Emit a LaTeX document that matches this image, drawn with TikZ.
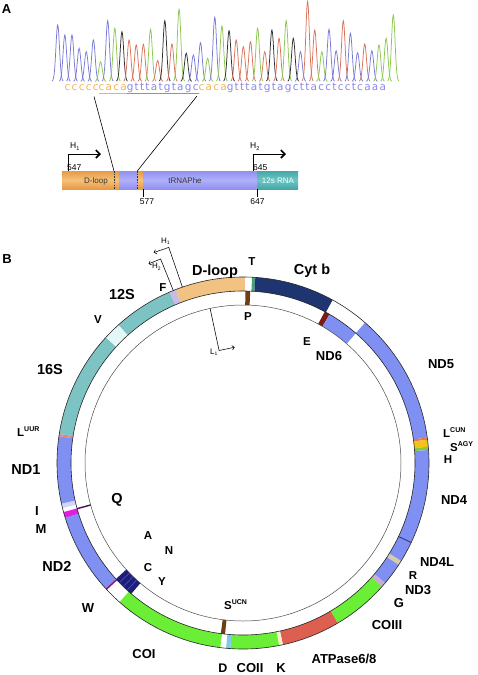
\documentclass[tikz,border=0pt]{standalone}
\usepackage{fontspec}
\setmainfont{Liberation Sans}
\newfontfamily\seqfont[LetterSpace=12]{DejaVu Sans}
\usetikzlibrary{arrows.meta}
% panel A colours
\definecolor{aor}{HTML}{E69A44}
\definecolor{aorl}{HTML}{F6C07A}
\definecolor{abl}{HTML}{9090F0}
\definecolor{abll}{HTML}{B0B0FA}
\definecolor{atl}{HTML}{46A6A6}
\definecolor{atll}{HTML}{6CC6C6}
\definecolor{seqor}{HTML}{F2B45A}
\definecolor{seqbl}{HTML}{8A8AE6}
\definecolor{cb}{HTML}{7A7AD6}
\definecolor{ca}{HTML}{8CC850}
\definecolor{cg}{HTML}{303030}
\definecolor{ct}{HTML}{D9735A}
% panel B colours
\definecolor{dloop}{HTML}{F2C283}
\definecolor{cytb}{HTML}{1F3572}
\definecolor{ndc}{HTML}{7F90F2}
\definecolor{cocol}{HTML}{6AEE36}
\definecolor{atp}{HTML}{DC5F50}
\definecolor{rteal}{HTML}{7DC3C3}
\definecolor{tcol}{HTML}{4E9E7E}
\definecolor{lcun}{HTML}{E87850}
\definecolor{sagy}{HTML}{F0C418}
\definecolor{hcol}{HTML}{8CC83C}
\definecolor{rcol}{HTML}{D6CCAA}
\definecolor{gcol}{HTML}{D0A8D8}
\definecolor{kcol}{HTML}{F4F2C8}
\definecolor{dcol}{HTML}{7CC8EE}
\definecolor{wcol}{HTML}{7A1E7A}
\definecolor{mcol}{HTML}{E01EE0}
\definecolor{icol}{HTML}{D4D4F6}
\definecolor{luur}{HTML}{E08888}
\definecolor{vcol}{HTML}{E4F6F6}
\definecolor{fcol}{HTML}{C8BCE6}
\definecolor{brn}{HTML}{6E3F12}
\definecolor{ecol}{HTML}{7A1C12}
\definecolor{clnavy}{HTML}{1C1E7A}
\definecolor{clstripe}{HTML}{5060C8}
\definecolor{qcol}{HTML}{4A0F55}
\newcommand\ulc[2]{\setbox0=\hbox{#2}\rlap{\color{#1}\rule[-2.8pt]{\wd0}{0.7pt}}\box0}
\newcommand\gseg[5]{\fill[#5] ({90-(#1)}:#3) arc[start angle={90-(#1)}, end angle={90-(#2)}, radius=#3] -- ({90-(#2)}:#4) arc[start angle={90-(#2)}, end angle={90-(#1)}, radius=#4] -- cycle;}
\newcommand\radl[4]{\draw[#4] ({90-(#1)}:#2) -- ({90-(#1)}:#3);}
\newcommand\sups[1]{\raisebox{5pt}{\fontsize{7}{7}\selectfont #1}}
\begin{document}
\begin{tikzpicture}[x=1pt,y=-1pt,
  lb/.style={font=\fontsize{14.5}{15}\selectfont\bfseries, inner sep=0pt, anchor=base},
  lm/.style={font=\fontsize{13}{14}\selectfont\bfseries, inner sep=0pt, anchor=base},
  ls/.style={font=\fontsize{11.5}{12}\selectfont\bfseries, inner sep=0pt, anchor=base},
  la/.style={font=\fontsize{8}{9}\selectfont, inner sep=0pt},
  lnum/.style={font=\fontsize{8.5}{9}\selectfont, inner sep=0pt},
  ringline/.style={draw=black!85, line width=0.6pt},
  inline/.style={draw=black!70, line width=0.5pt},
  conn/.style={draw=black, line width=0.6pt},
  arrA/.style={line width=0.6pt, -{Straight Barb[length=4pt,width=8pt,line width=1.6pt]}},
  arrB/.style={line width=0.55pt, -{Straight Barb[length=2.2pt,width=4.4pt,line width=0.55pt]}},
  dsh/.style={draw=black!80, line width=0.6pt, dash pattern=on 1.5pt off 1.2pt}]
\useasboundingbox (0,0) rectangle (477,675);
\fill[white] (0,0) rectangle (477,675);

% ---------------- Panel A ----------------
\node[font=\fontsize{13}{14}\selectfont\bfseries, inner sep=0pt, anchor=base] (labA) at (6.5,13) {A};

% chromatogram
\foreach \i/\t/\c in {1/25/cb,2/35/cb,3/35/cb,4/48.3/cb,5/51.7/cb,6/40/cb,7/61.7/ca,8/20.7/cb,
  9/28.3/ca,10/31.7/cg,11/40/ct,12/45/ct,13/44.3/ct,14/29.3/ca,15/60.7/ct,16/20.7/cg,
  17/44/ct,18/9.3/ca,19/53.3/cg,20/55/cb,21/42.7/cb,22/58.3/ca,23/17.3/cb,24/26/ca,
  25/30.7/cg,26/40/ct,27/46.7/ct,28/41.7/ct,29/28.3/ca,30/51.7/ct,31/30/cg,32/38.3/ct,
  33/20.7/ca,34/38.3/cg,35/51.7/cb,36/1.5/ct,37/30/ct,38/51.7/ca,39/29.3/cb,40/50.7/cb,
  41/20.7/ct,42/33.3/cb,43/52.7/cb,44/44/ct,45/50.7/cb,46/45/ca,47/38.3/ca,48/15/ca}{
  \pgfmathsetmacro\pk{57.7+7.14*(\i-1)}
  \pgfmathsetmacro\pa{\pk-5.5}
  \pgfmathsetmacro\pb{\pk+5.5}
  \pgfmathsetmacro\hh{81.5-\t}
  \draw[color=\c, line width=0.75pt] plot[smooth, samples=19, domain=\pa:\pb] (\x, {81.5-\hh*exp(-((\x-\pk)/2.5)^2)});
}

% sequence
\node[anchor=base west, inner sep=0pt] (seq) at (64.5,90.7) {\seqfont\fontsize{10.5}{12}\selectfont
  \color{seqor}ccccc\ulc{seqor}{caca}\color{seqbl}\ulc{seqbl}{gtttatgtagc}\color{seqor}caca\color{seqbl}gtttatgtagcttacctcctcaaa};

% gene bar
\fill[top color=aor, bottom color=aor, middle color=aorl] (62,171) rectangle (119,189);
\fill[top color=abl, bottom color=abl, middle color=abll] (119,171) rectangle (137.3,189);
\fill[top color=aor, bottom color=aor, middle color=aorl] (137.3,171) rectangle (143,189);
\fill[top color=abl, bottom color=abl, middle color=abll] (143,171) rectangle (257,189);
\fill[top color=atl, bottom color=atl, middle color=atll] (257,171) rectangle (298,189);
\coordinate (d1t) at (114,171); \coordinate (d1b) at (114,189);
\coordinate (d2t) at (137.3,171); \coordinate (d2b) at (137.3,189);
\draw[dsh] (d1t) -- (d1b);
\draw[dsh] (d2t) -- (d2b);
\node[la, text=black!80] (tdl) at (96,181) {D-loop};
\node[la, text=black!80] (tphe) at (185,181) {tRNAPhe};
\node[la, text=white] (t12) at (278,181) {12s RNA};

% connectors from sequence
\coordinate (s1) at (94,96.5);
\coordinate (s2) at (197,96);
\draw[conn] (s1) -- (d1t);
\draw[conn] (s2) -- (d2t);

% promoter arrows
\coordinate (h1b) at (68,171); \coordinate (h1c) at (68,154); \coordinate (h1e) at (101,154);
\coordinate (h2b) at (253,171); \coordinate (h2c) at (253,154); \coordinate (h2e) at (286,154);
\draw[arrA] (h1b) -- (h1c) -- (h1e);
\draw[arrA] (h2b) -- (h2c) -- (h2e);
\node[lnum, anchor=base west] (hA1) at (70,148.5) {H\raisebox{-1.5pt}{\fontsize{5.5}{6}\selectfont 1}};
\node[lnum, anchor=base west] (hA2) at (250,148.5) {H\raisebox{-1.5pt}{\fontsize{5.5}{6}\selectfont 2}};
\node[lnum, anchor=base west] (n547) at (67,170.5) {547};
\node[lnum, anchor=base west] (n645) at (253,170.5) {645};
\coordinate (k1t) at (143,189); \coordinate (k1b) at (143,196.5);
\coordinate (k2t) at (257,189); \coordinate (k2b) at (257,196.5);
\draw[conn] (k1t) -- (k1b);
\draw[conn] (k2t) -- (k2b);
\node[lnum, anchor=base] (n577) at (147,204) {577};
\node[lnum, anchor=base] (n647) at (257.5,204) {647};

% ---------------- Panel B ----------------
\node[font=\fontsize{13}{14}\selectfont\bfseries, inner sep=0pt, anchor=base] (labB) at (7,263) {B};

\begin{scope}[shift={(243,463)}, y=1pt]
  % outer track (H strand)
  \gseg{-21.3}{0.6}{172}{186}{dloop}
  \gseg{2.8}{3.8}{172}{186}{tcol}
  \gseg{3.8}{28.8}{172}{186}{cytb}
  \gseg{41}{82.1}{172}{186}{ndc}
  \gseg{82.1}{82.8}{172}{186}{lcun}
  \gseg{82.8}{85}{172}{186}{sagy}
  \gseg{85}{86}{172}{186}{hcol}
  \gseg{86}{115.3}{172}{186}{ndc}
  \gseg{115.3}{121.8}{172}{186}{ndc}
  \gseg{121.8}{123.2}{172}{186}{rcol}
  \gseg{123.2}{130.2}{172}{186}{ndc}
  \gseg{130.2}{131.6}{172}{186}{gcol}
  \gseg{131.6}{149.4}{172}{186}{cocol}
  \gseg{149.4}{167.6}{172}{186}{atp}
  \gseg{167.6}{168.8}{172}{186}{kcol}
  \gseg{168.8}{183.9}{172}{186}{cocol}
  \gseg{183.9}{185.2}{172}{186}{dcol}
  \gseg{187}{221.6}{172}{186}{cocol}
  \gseg{227.6}{252.9}{172}{186}{ndc}
  \gseg{252.9}{254.7}{172}{186}{mcol}
  \gseg{256}{257.4}{172}{186}{icol}
  \gseg{257.4}{278.3}{172}{186}{ndc}
  \gseg{278.3}{279}{172}{186}{luur}
  \gseg{279}{312.5}{172}{186}{rteal}
  \gseg{312.5}{318}{172}{186}{vcol}
  \gseg{318}{336.8}{172}{186}{rteal}
  \gseg{336.8}{338.7}{172}{186}{fcol}
  \radl{115.3}{172}{186}{draw=cytb, line width=0.8pt}
  \radl{227.3}{172}{186}{draw=wcol, line width=1.6pt}
  % inner track (L strand)
  \gseg{0.8}{2.4}{158}{172}{brn}
  \gseg{28.4}{30.2}{158}{172}{ecol}
  \gseg{30.2}{41}{158}{172}{ndc}
  \gseg{186}{187.4}{158}{172}{brn}
  \gseg{220.5}{227.6}{158}{172}{clnavy}
  \radl{222.3}{158}{172}{draw=clstripe, line width=0.5pt}
  \radl{224.1}{158}{172}{draw=clstripe, line width=0.5pt}
  \radl{225.9}{158}{172}{draw=clstripe, line width=0.5pt}
  \radl{254.6}{158}{172}{draw=qcol, line width=1.4pt}
  % outlines
  \draw[ringline] (0,0) circle[radius=186];
  \draw[ringline] (0,0) circle[radius=172];
  \draw[inline] (0,0) circle[radius=158];
\end{scope}

% promoter arrows panel B
\coordinate (bh1b) at (182.4,287.1); \coordinate (bh1c) at (168.8,247.4); \coordinate (bh1e) at (153.7,252.6);
\coordinate (bh2b) at (173.3,290.5); \coordinate (bh2c) at (160.6,259); \coordinate (bh2e) at (148.5,263.9);
\coordinate (bl1b) at (210.1,308.5); \coordinate (bl1c) at (219.1,350.5); \coordinate (bl1e) at (234.7,347.2);
\draw[arrB] (bh1b) -- (bh1c) -- (bh1e);
\draw[arrB] (bh2b) -- (bh2c) -- (bh2e);
\draw[arrB] (bl1b) -- (bl1c) -- (bl1e);
\node[lnum, anchor=base west, font=\fontsize{8}{9}\selectfont] (bH1) at (161,243) {H\raisebox{-1.5pt}{\fontsize{5}{6}\selectfont 1}};
\node[lnum, anchor=base west, font=\fontsize{8}{9}\selectfont] (bH2) at (152,268.5) {H\raisebox{-1.5pt}{\fontsize{5}{6}\selectfont 2}};
\node[lnum, anchor=base west, font=\fontsize{8}{9}\selectfont] (bL1) at (210,354) {L\raisebox{-1.5pt}{\fontsize{5}{6}\selectfont 1}};

% gene labels
\node[lb] (gDl) at (215,275) {D-loop};
\node[ls] (gT) at (252,265) {T};
\node[lb] (gCb) at (312,274) {Cyt b};
\node[lb] (g12) at (122,299) {12S};
\node[ls] (gF) at (163,291) {F};
\node[ls] (gP) at (248,320) {P};
\node[ls] (gE) at (307,345) {E};
\node[lm] (gN6) at (329,360) {ND6};
\node[lm] (gN5) at (441,368) {ND5};
\node[ls, anchor=base west] (gLc) at (443,437) {L\sups{CUN}};
\node[ls, anchor=base west] (gSa) at (450,451) {S\sups{AGY}};
\node[ls] (gH) at (448,463) {H};
\node[lm] (gN4) at (454,504) {ND4};
\node[lm] (gN4L) at (437,566) {ND4L};
\node[ls] (gR) at (413,579) {R};
\node[lm] (gN3) at (418,594) {ND3};
\node[lm] (gG) at (399,607) {G};
\node[lm] (gC3) at (387,629) {COIII};
\node[lm] (gATP) at (344,663) {ATPase6/8};
\node[lm] (gK) at (281,672.5) {K};
\node[lm] (gC2) at (250,672.5) {COII};
\node[lm, font=\fontsize{12.5}{13}\selectfont\bfseries] (gD) at (223,672.5) {D};
\node[lm] (gC1) at (144,658) {COI};
\node[ls, anchor=base west] (gSu) at (224,609) {S\sups{UCN}};
\node[lm] (gW) at (88,612) {W};
\node[lb] (gN2) at (57,571) {ND2};
\node[ls] (gY) at (162,585) {Y};
\node[ls] (gC) at (148,571) {C};
\node[ls] (gN) at (169,554) {N};
\node[ls] (gA) at (148,539) {A};
\node[lm] (gM) at (41,533) {M};
\node[lm] (gI) at (37,515) {I};
\node[lb] (gQ) at (117,503) {Q};
\node[lb] (gN1) at (26,474) {ND1};
\node[ls, anchor=base west] (gLu) at (17,436) {L\sups{UUR}};
\node[lb] (g16) at (50,374) {16S};
\node[ls] (gV) at (98,323) {V};
\end{tikzpicture}
\end{document}
